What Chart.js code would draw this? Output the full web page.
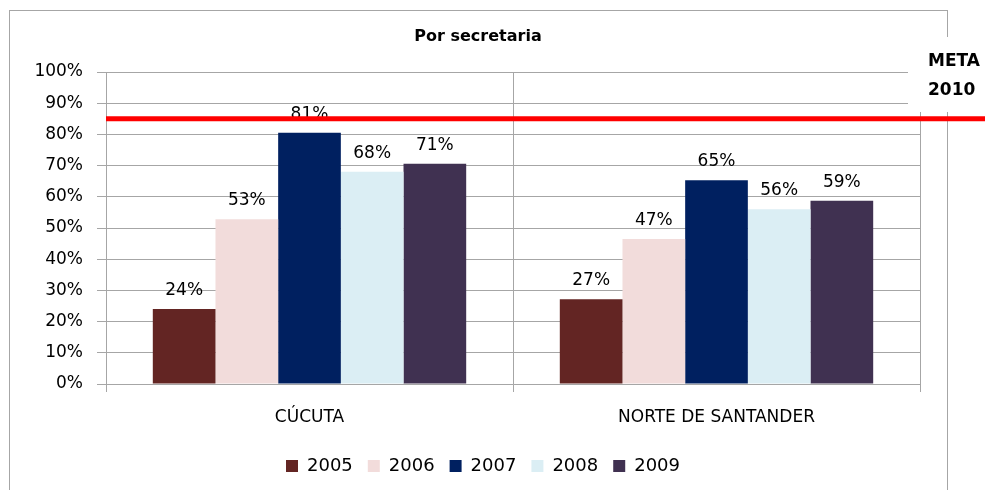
<!DOCTYPE html>
<html>
<head>
<meta charset="utf-8">
<script src="https://cdn.jsdelivr.net/npm/chart.js@4"></script>
<style>
  html, body { margin: 0; padding: 0; background: #fff; }
  #wrap { width: 985px; height: 490px; }
</style>
</head>
<body>
<div id="wrap"><canvas id="myChart" width="985" height="490"></canvas></div>
<script>
const categories = ["CÚCUTA", "NORTE DE SANTANDER"];
const years = ["2005", "2006", "2007", "2008", "2009"];
const colors = ["#632523", "#F2DCDB", "#002060", "#DBEEF4", "#403151"];
// value per year: [CÚCUTA, NORTE DE SANTANDER]
const values = [
  [24, 27.2],
  [52.8, 46.5],
  [80.5, 65.3],
  [68, 56],
  [70.6, 58.7],
];
const yTicks = [0, 10, 20, 30, 40, 50, 60, 70, 80, 90, 100];
const meta = 85;
const chartTitle = "Por secretaria";
const metaLabel = ["META", "2010"];

const FONT = "'DejaVu Sans', sans-serif";
const GRID = "#A6A6A6";
const BOTTOM_PAD = 5;

const extras = {
  id: "extras",
  afterLayout(chart) {
    // legend sits a bit right of the default centre
    chart.legend.left += 23;
    chart.legend.right += 23;
  },
  beforeDraw(chart) {
    const ctx = chart.ctx;
    ctx.save();
    ctx.fillStyle = "#fff";
    ctx.fillRect(0, 0, chart.width, chart.height);
    ctx.strokeStyle = GRID;
    ctx.lineWidth = 1;
    ctx.strokeRect(9.5, 10.5, 938, 520);
    ctx.restore();
  },
  afterDatasetsDraw(chart) {
    const ctx = chart.ctx;
    ctx.save();
    ctx.font = "17px " + FONT;
    ctx.fillStyle = "#000";
    ctx.textAlign = "center";
    ctx.textBaseline = "bottom";
    chart.data.datasets.forEach((ds, i) => {
      chart.getDatasetMeta(i).data.forEach((bar, j) => {
        ctx.fillText(Math.round(ds.data[j]) + "%", bar.x, bar.y - 10);
      });
    });
    ctx.restore();
  },
  afterDraw(chart) {
    const ctx = chart.ctx;
    const area = chart.chartArea;
    ctx.save();
    // box behind META text
    ctx.fillStyle = "#fff";
    ctx.fillRect(908, 37, 77, 75);
    // meta line
    const y = chart.scales.y.getPixelForValue(meta);
    ctx.strokeStyle = "#FF0000";
    ctx.lineWidth = 5;
    ctx.beginPath();
    ctx.moveTo(area.left, y);
    ctx.lineTo(chart.width, y);
    ctx.stroke();
    // title
    ctx.fillStyle = "#000";
    ctx.textAlign = "center";
    ctx.textBaseline = "middle";
    ctx.font = "bold 16px " + FONT;
    ctx.fillText(chartTitle, 478, 37);
    // META 2010
    ctx.textAlign = "left";
    ctx.font = "bold 17px " + FONT;
    ctx.fillText(metaLabel[0], 928, 62);
    ctx.fillText(metaLabel[1], 928, 91);
    ctx.restore();
  }
};

new Chart(document.getElementById("myChart"), {
  type: "bar",
  data: {
    labels: categories,
    datasets: years.map((yr, i) => ({
      label: yr,
      data: values[i],
      backgroundColor: colors[i],
      borderWidth: 0,
      categoryPercentage: 0.77,
      barPercentage: 1,
    })),
  },
  options: {
    responsive: false,
    animation: false,
    layout: { padding: { top: 72, right: 65, left: 0, bottom: BOTTOM_PAD } },
    scales: {
      y: {
        min: 0,
        max: 100,
        afterBuildTicks: (s) => { s.ticks = yTicks.map((v) => ({ value: v })); },
        afterFit: (s) => { s.width = 106; },
        ticks: {
          padding: 14,
          color: "#000",
          font: { family: FONT, size: 17 },
          callback: (v) => v + "%",
        },
        grid: { color: GRID, tickLength: 9 },
        border: { color: GRID },
      },
      x: {
        afterFit: (s) => { s.height = 490 - BOTTOM_PAD - 384 - s.chart.legend.height; },
        ticks: {
          padding: 15,
          color: "#000",
          font: { family: FONT, size: 17 },
        },
        grid: { color: GRID, tickLength: 8, offset: true },
        border: { color: GRID },
      },
    },
    plugins: {
      title: { display: false },
      tooltip: { enabled: false },
      legend: {
        position: "bottom",
        labels: {
          color: "#000",
          font: { family: FONT, size: 18 },
          boxWidth: 12,
          boxHeight: 12,
          padding: 15,
        },
      },
    },
  },
  plugins: [extras],
});
</script>
</body>
</html>
